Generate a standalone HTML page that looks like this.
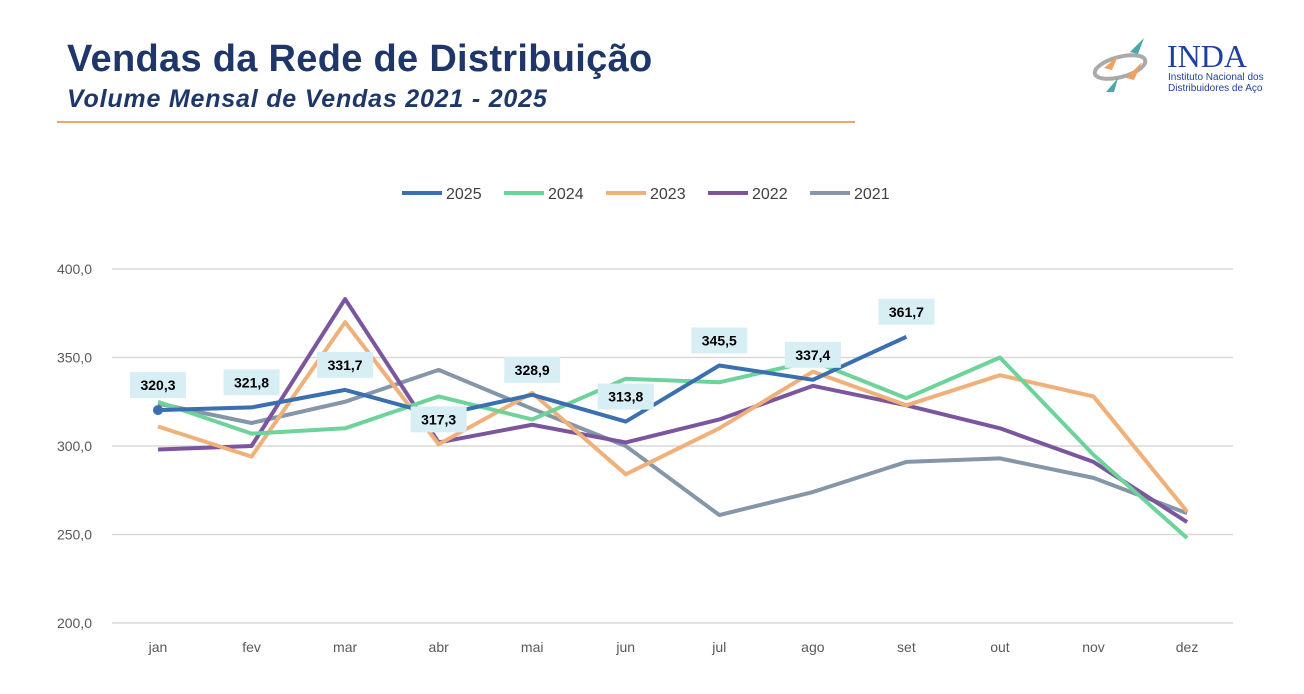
<!DOCTYPE html>
<html><head><meta charset="utf-8"><style>
body{margin:0;width:1304px;height:694px;background:#fff;font-family:"Liberation Sans",sans-serif;overflow:hidden;position:relative}
.t{position:absolute;left:67px;top:38px;font-size:38px;font-weight:bold;color:#1f3768;letter-spacing:0.3px}
.s{position:absolute;left:67px;top:85px;font-size:25px;font-weight:bold;font-style:italic;color:#1f3768;letter-spacing:0.8px}
.hr{position:absolute;left:57px;top:121px;width:798px;height:2px;background:#f0a860}
</style></head><body>
<div class="t">Vendas da Rede de Distribuição</div>
<div class="s">Volume Mensal de Vendas 2021 - 2025</div>
<div class="hr"></div>
<svg style="position:absolute;left:1090px;top:30px" width="190" height="75">
<ellipse cx="30" cy="37" rx="26" ry="10" fill="none" stroke="#aaa" stroke-width="4" transform="rotate(-15 30 37)"/>
<polygon points="40,22 54,8 48,24" fill="#4aa8a8"/><polygon points="14,38 28,26 22,40" fill="#f0a060"/>
<polygon points="36,48 52,32 44,50" fill="#f0a060"/><polygon points="16,62 28,48 24,62" fill="#4aa8a8"/>
<text x="77" y="37" font-size="32" font-family="Liberation Serif" fill="#2040a0">INDA</text>
<text x="78" y="50" font-size="10" fill="#2040a0">Instituto Nacional dos</text>
<text x="78" y="61" font-size="10" fill="#2040a0">Distribuidores de Aço</text>
</svg>
<svg id="c" width="1304" height="694" style="position:absolute;left:0;top:0"></svg>
<script>
const months=["jan","fev","mar","abr","mai","jun","jul","ago","set","out","nov","dez"];
const yTicks=[200,250,300,350,400];
const s2025=[320.3,321.8,331.7,317.3,328.9,313.8,345.5,337.4,361.7];
const s2024=[325,307,310,328,315,338,336,348,327,350,295,248];
const s2023=[311,294,370,301,330,284,310,342,323,340,328,263];
const s2022=[298,300,383,302,312,302,315,334,323,310,291,257];
const s2021=[324,313,325,343,321,300,261,274,291,293,282,262];
const labels2025=["320,3","321,8","331,7","317,3","328,9","313,8","345,5","337,4","361,7"];
const NS="http://www.w3.org/2000/svg",svg=document.getElementById('c');
const x=i=>158+i*93.55, y=v=>623-(v-200)*1.77;
function mk(t,a){const e=document.createElementNS(NS,t);for(const k in a)e.setAttribute(k,a[k]);svg.appendChild(e);return e;}
yTicks.forEach(v=>{const l=mk('line',{x1:112,x2:1233,y1:y(v),y2:y(v),stroke:'#d9d9d9','stroke-width':1.5});


const t=mk('text',{x:92,y:y(v)+5,'text-anchor':'end','font-size':14,fill:'#595959'});t.textContent=v.toFixed(1).replace('.',',');

});
months.forEach((m,i)=>{const t=mk('text',{x:x(i),y:652,'text-anchor':'middle','font-size':14,fill:'#595959'});t.textContent=m;

});
const series=[["2021",s2021,"#8596a8"],["2022",s2022,"#7b559d"],["2023",s2023,"#f0b07a"],["2024",s2024,"#6dd39a"],["2025",s2025,"#3a6fb0"]];
series.forEach(([n,d,c])=>{const p=mk('polyline',{points:d.map((v,i)=>x(i)+','+y(v)).join(' '),fill:'none',stroke:c,'stroke-width':4,'stroke-linejoin':'round'});

});
const dot=mk('circle',{cx:x(0),cy:y(s2025[0]),r:5,fill:'#3a6fb0'});


s2025.forEach((v,i)=>{const cy=i==3?y(v)+4:y(v)-25;
const r=mk('rect',{x:x(i)-28,y:cy-13,width:56,height:26,fill:'#d7eef4'});


const t=mk('text',{x:x(i),y:cy+5,'text-anchor':'middle','font-size':14,'font-weight':'bold',fill:'#000'});t.textContent=labels2025[i];

});
const leg=[["2025","#3a6fb0",402],["2024","#6dd39a",504],["2023","#f0b07a",606],["2022","#7b559d",708],["2021","#8596a8",810]];
leg.forEach(([n,c,lx])=>{const g=mk('g',{});
const l=document.createElementNS(NS,'line');[['x1',lx],['x2',lx+40],['y1',193],['y2',193],['stroke',c],['stroke-width',4]].forEach(a=>l.setAttribute(a[0],a[1]));g.appendChild(l);
const t=document.createElementNS(NS,'text');t.setAttribute('x',lx+44);t.setAttribute('y',199);t.setAttribute('font-size',16);t.setAttribute('fill','#404040');t.textContent=n;g.appendChild(t);});
</script>
</body></html>
